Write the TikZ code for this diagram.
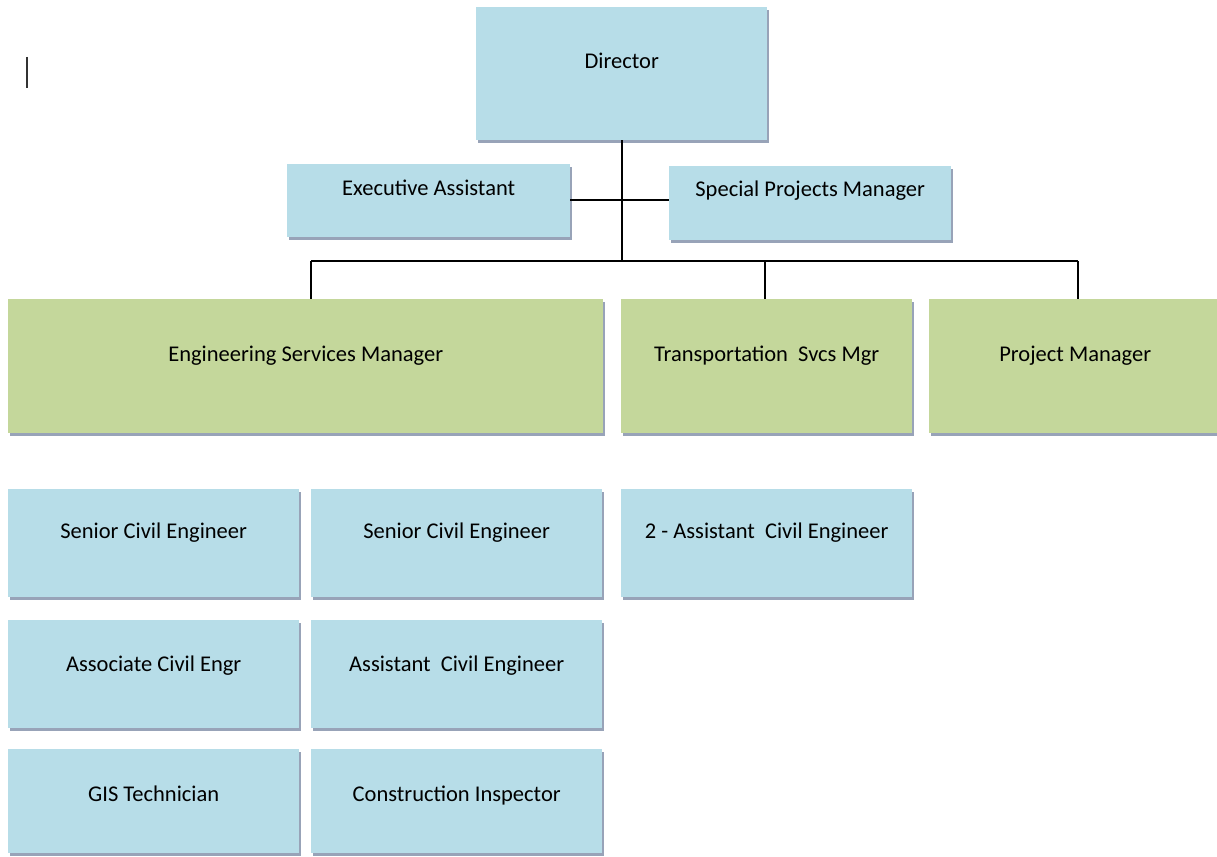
\documentclass[tikz,border=0pt]{standalone}
\usepackage{fontspec}
\setmainfont{Carlito}
\usetikzlibrary{shadows}
\definecolor{boxblue}{HTML}{B7DDE8}
\definecolor{boxgreen}{HTML}{C4D79B}
\definecolor{shadowc}{HTML}{98A3B8}
\begin{document}
\begin{tikzpicture}[x=1pt,y=-1pt,
  box/.style={anchor=north west, rectangle, inner sep=0pt, align=center,
    text height=16pt, text depth=26pt,
    font=\fontsize{22.5}{26}\selectfont, text=black,
    drop shadow={shadow xshift=2pt, shadow yshift=-3pt, fill=shadowc, opacity=1}},
  bluebox/.style={box, fill=boxblue},
  greenbox/.style={box, fill=boxgreen},
  conn/.style={draw=black, line width=1.3pt}]
\useasboundingbox (0,0) rectangle (1217,856);
\fill[white] (0,0) rectangle (1217,856);
% cursor mark
\coordinate (c1) at (27,57);
\coordinate (c2) at (27,88);
\draw[line width=1.2pt, black!80] (c1) -- (c2);
% nodes
\node[bluebox, minimum width=291pt, minimum height=133pt] (dir) at (476,7) {Director};
\node[bluebox, minimum width=283pt, minimum height=73pt] (ea) at (287,164) {Executive Assistant};
\node[bluebox, minimum width=282pt, minimum height=74pt, text depth=30pt] (spm) at (669,166) {Special Projects Manager};
\node[greenbox, minimum width=595pt, minimum height=134pt] (esm) at (8,299) {Engineering Services Manager};
\node[greenbox, minimum width=291pt, minimum height=134pt] (tsm) at (621,299) {Transportation\ \ Svcs Mgr};
\node[greenbox, minimum width=292pt, minimum height=134pt] (pm) at (929,299) {Project Manager};
\node[bluebox, minimum width=291pt, minimum height=108pt] (sce1) at (8,489) {Senior Civil Engineer};
\node[bluebox, minimum width=291pt, minimum height=108pt] (sce2) at (311,489) {Senior Civil Engineer};
\node[bluebox, minimum width=291pt, minimum height=108pt] (aceb) at (621,489) {2 - Assistant\ \ Civil Engineer};
\node[bluebox, minimum width=291pt, minimum height=108pt, text depth=22pt] (acie) at (8,620) {Associate Civil Engr};
\node[bluebox, minimum width=291pt, minimum height=108pt, text depth=22pt] (ace) at (311,620) {Assistant\ \ Civil Engineer};
\node[bluebox, minimum width=291pt, minimum height=104pt, text depth=16pt] (gis) at (8,749) {GIS Technician};
\node[bluebox, minimum width=291pt, minimum height=104pt, text depth=16pt] (ci) at (311,749) {Construction Inspector};
% connectors
\coordinate (bus) at (622,261);
\coordinate (b1) at (311,261);
\coordinate (b2) at (765,261);
\coordinate (b3) at (1078,261);
\coordinate (dtop) at (622,140);
\coordinate (ah) at (622,200);
\draw[conn] (dtop) -- (bus);
\draw[conn] (ea.east |- ah) -- (spm.west |- ah);
\draw[conn] (b1) -- (b3);
\draw[conn] (b1) -- (b1 |- esm.north);
\draw[conn] (b2) -- (b2 |- tsm.north);
\draw[conn] (b3) -- (b3 |- pm.north);
\end{tikzpicture}
\end{document}
